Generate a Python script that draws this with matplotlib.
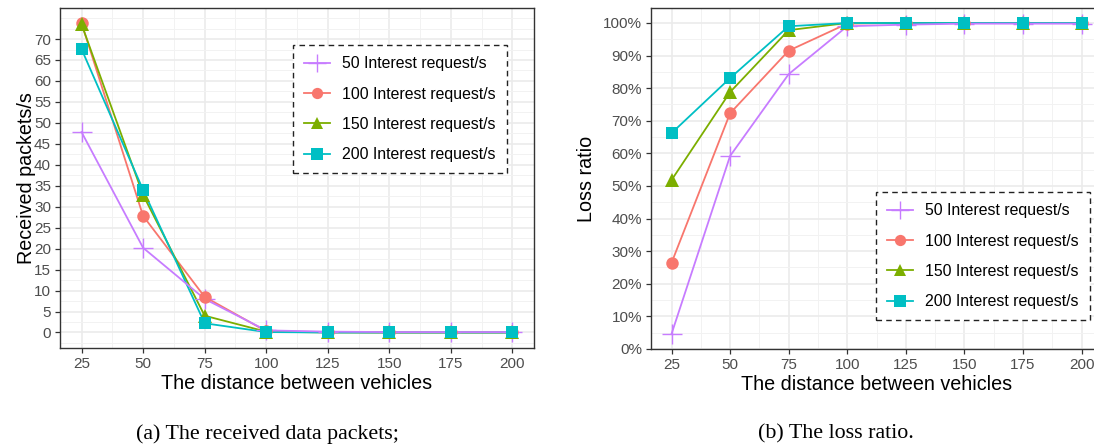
import matplotlib.pyplot as plt
from matplotlib.lines import Line2D
from matplotlib.ticker import MultipleLocator, PercentFormatter

# data
distance = [25, 50, 75, 100, 125, 150, 175, 200]
labels = ['50 Interest request/s', '100 Interest request/s',
          '150 Interest request/s', '200 Interest request/s']

recv_50 = [47.8, 20.2, 8.0, 0.5, 0.2, 0.1, 0.1, 0.1]
recv_100 = [73.8, 27.8, 8.5, 0.3, 0.1, 0.0, 0.0, 0.0]
recv_150 = [73.5, 32.8, 4.0, 0.2, 0.0, 0.0, 0.0, 0.0]
recv_200 = [67.6, 34.0, 2.2, 0.1, 0.0, 0.0, 0.0, 0.0]

loss_50 = [0.046, 0.592, 0.843, 0.990, 0.995, 0.998, 0.998, 0.998]
loss_100 = [0.264, 0.723, 0.915, 0.998, 1.0, 1.0, 1.0, 1.0]
loss_150 = [0.518, 0.788, 0.978, 1.0, 1.0, 1.0, 1.0, 1.0]
loss_200 = [0.662, 0.831, 0.990, 1.0, 1.0, 1.0, 1.0, 1.0]

colors = ['#C77CFF', '#F8766D', '#7CAE00', '#00BFC4']
markers = ['+', 'o', '^', 's']
msizes = [14, 9, 9.5, 9]

plt.rcParams['font.family'] = ['Liberation Sans', 'DejaVu Sans']

fig = plt.figure(figsize=(10.94, 4.46), dpi=100)
ax1 = fig.add_axes([60 / 1094, 1 - 348 / 446, 474 / 1094, 340 / 446])
ax2 = fig.add_axes([651 / 1094, 1 - 349 / 446, 451 / 1094, 341 / 446])


def style(ax):
    ax.set_facecolor('white')
    ax.grid(True, which='major', color='#EBEBEB', lw=1.2, zorder=0)
    ax.grid(True, which='minor', color='#F2F2F2', lw=0.7, zorder=0)
    ax.set_axisbelow(True)
    for s in ax.spines.values():
        s.set_color('#333333')
        s.set_linewidth(1.0)
    ax.tick_params(which='major', length=3.5, width=0.9, color='#333333',
                   labelsize=11, labelcolor='#4D4D4D', pad=3)
    ax.tick_params(which='minor', length=0)
    ax.set_xlim(16.25, 208.75)
    ax.set_xticks(distance)
    ax.xaxis.set_minor_locator(MultipleLocator(12.5))
    ax.set_xlabel('The distance between vehicles', fontsize=14.2, labelpad=2)


def draw(ax, series):
    for i, ys in enumerate(series):
        ax.plot(distance, ys, color=colors[i], lw=1.3, zorder=2 + (i == 0) * 0.5)
    for i, ys in enumerate(series):
        ax.plot(distance, ys, ls='none', marker=markers[i], ms=msizes[i],
                color=colors[i], mew=1.0 if i == 0 else 0, zorder=3)


def legend(ax, x, y):
    handles = [Line2D([], [], color=colors[i], lw=1.3, marker=markers[i],
                      ms=msizes[i] * (0.95 if i == 0 else 0.9),
                      mew=1.0 if i == 0 else 0) for i in range(4)]
    leg = ax.legend(handles, labels, loc='upper left', bbox_to_anchor=(x, y),
                    borderaxespad=0, fontsize=11.4, handlelength=1.65,
                    handletextpad=0.76, labelspacing=0.97, borderpad=0.7,
                    fancybox=False, framealpha=1)
    fr = leg.get_frame()
    fr.set_linestyle((0, (4, 3)))
    fr.set_edgecolor('#222222')
    fr.set_linewidth(1.0)


style(ax1)
draw(ax1, [recv_50, recv_100, recv_150, recv_200])
ax1.set_ylim(-3.7, 77.4)
ax1.set_yticks(range(0, 75, 5))
ax1.yaxis.set_minor_locator(MultipleLocator(2.5))
ax1.set_ylabel('Received packets/s', fontsize=14.2)
ax1.yaxis.set_label_coords(-0.051, 0.5)
legend(ax1, 0.4916, 0.891)

style(ax2)
draw(ax2, [loss_50, loss_100, loss_150, loss_200])
ax2.set_ylim(0, 1.046)
ax2.set_yticks([i / 10 for i in range(11)])
ax2.yaxis.set_minor_locator(MultipleLocator(0.05))
ax2.yaxis.set_major_formatter(PercentFormatter(xmax=1, decimals=0))
ax2.set_ylabel('Loss ratio', fontsize=14.2)
ax2.yaxis.set_label_coords(-0.122, 0.5)
legend(ax2, 0.499, 0.46)

fig.text(267 / 1094, 1 - 434 / 446, '(a) The received data packets;',
         family=['Liberation Serif'], fontsize=15.8, ha='center', va='center')
fig.text(836 / 1094, 1 - 434 / 446, '(b) The loss ratio.',
         family=['Liberation Serif'], fontsize=15.8, ha='center', va='center')

fig.savefig('out.png', dpi=100)
